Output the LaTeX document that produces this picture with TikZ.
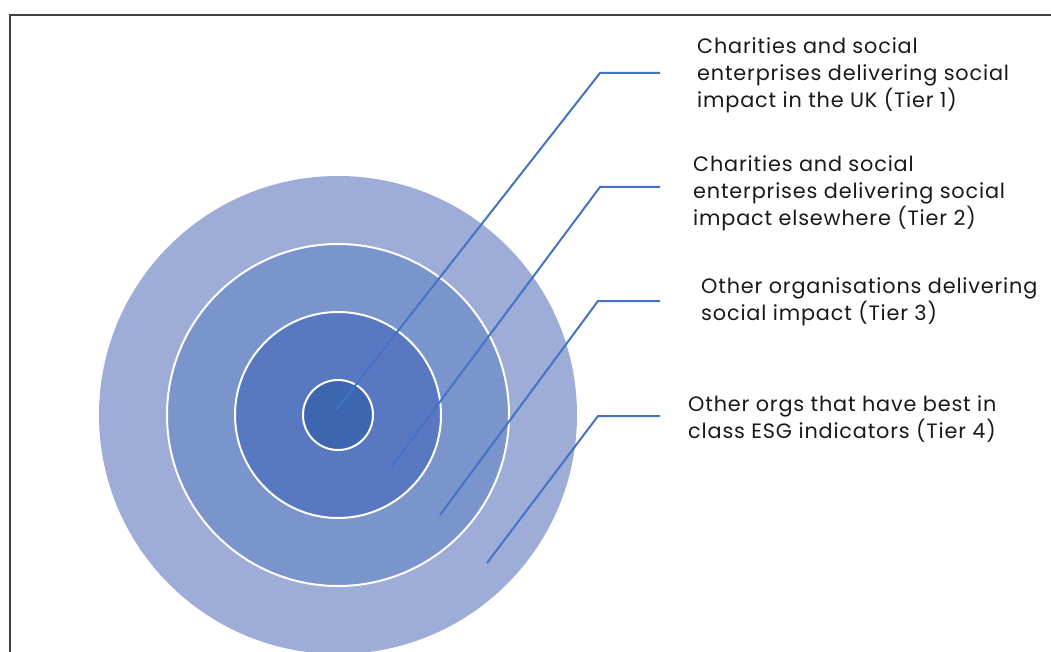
\documentclass[tikz,border=0pt]{standalone}
\usepackage{fontspec}
\setsansfont[LetterSpace=4]{Poppins}
\usetikzlibrary{positioning, calc}
\definecolor{tierfour}{HTML}{9EADD8}
\definecolor{tierthree}{HTML}{7A94CC}
\definecolor{tiertwo}{HTML}{5878C2}
\definecolor{tierone}{HTML}{3C66B0}
\definecolor{cline}{HTML}{4472C4}
\tikzset{
  every picture/.style={font=\sffamily},
  ring/.style={circle, fill=#1, draw=white, line width=2pt, inner sep=0pt},
  leader/.style={draw=cline, line width=2pt},
  tier/.style={anchor=west, align=left, inner sep=0pt, text=black!90,
    font=\sffamily\fontsize{20.8}{27}\selectfont},
}

\begin{document}
\begin{tikzpicture}[x=1pt, y=-1pt]
  \clip (0,0) rectangle (1051,652);
  \draw[line width=2pt, draw=black!75] (10,15) rectangle (1080,690);

  % the four tiers, outermost first
  \node[ring=tierfour, draw=none, minimum size=478pt] (t4) at (338,415) {};
  \node[ring=tierthree, minimum size=342pt] (t3) at (338,415) {};
  \node[ring=tiertwo, minimum size=206pt] (t2) at (338,415) {};
  \node[ring=tierone, minimum size=70pt] (t1) at (338,415) {};

  % labels
  \node[tier] (l1) at (697,75) {Charities and social\\enterprises delivering social\\impact in the UK (Tier 1)};
  \node[tier] (l2) at (693,193) {Charities and social\\enterprises delivering social\\impact elsewhere (Tier 2)};
  \node[tier] (l3) at (701,302) {Other organisations delivering\\social impact (Tier 3)};
  \node[tier] (l4) at (688,419) {Other orgs that have best in\\class ESG indicators (Tier 4)};

  % leader lines: kink, then a short run towards the label
  \coordinate (p1) at (336,410);
  \coordinate (p2) at (392,466);
  \coordinate (p3) at (440,515);
  \coordinate (p4) at (487,563);
  \coordinate (k1) at (600,73);
  \coordinate (k2) at (600,187);
  \coordinate (k3) at (598,301);
  \coordinate (k4) at (598,416);
  \foreach \i in {1,...,4}
    \draw[leader] (p\i) -- (k\i) -- (660,0 |- k\i);
\end{tikzpicture}
\end{document}
